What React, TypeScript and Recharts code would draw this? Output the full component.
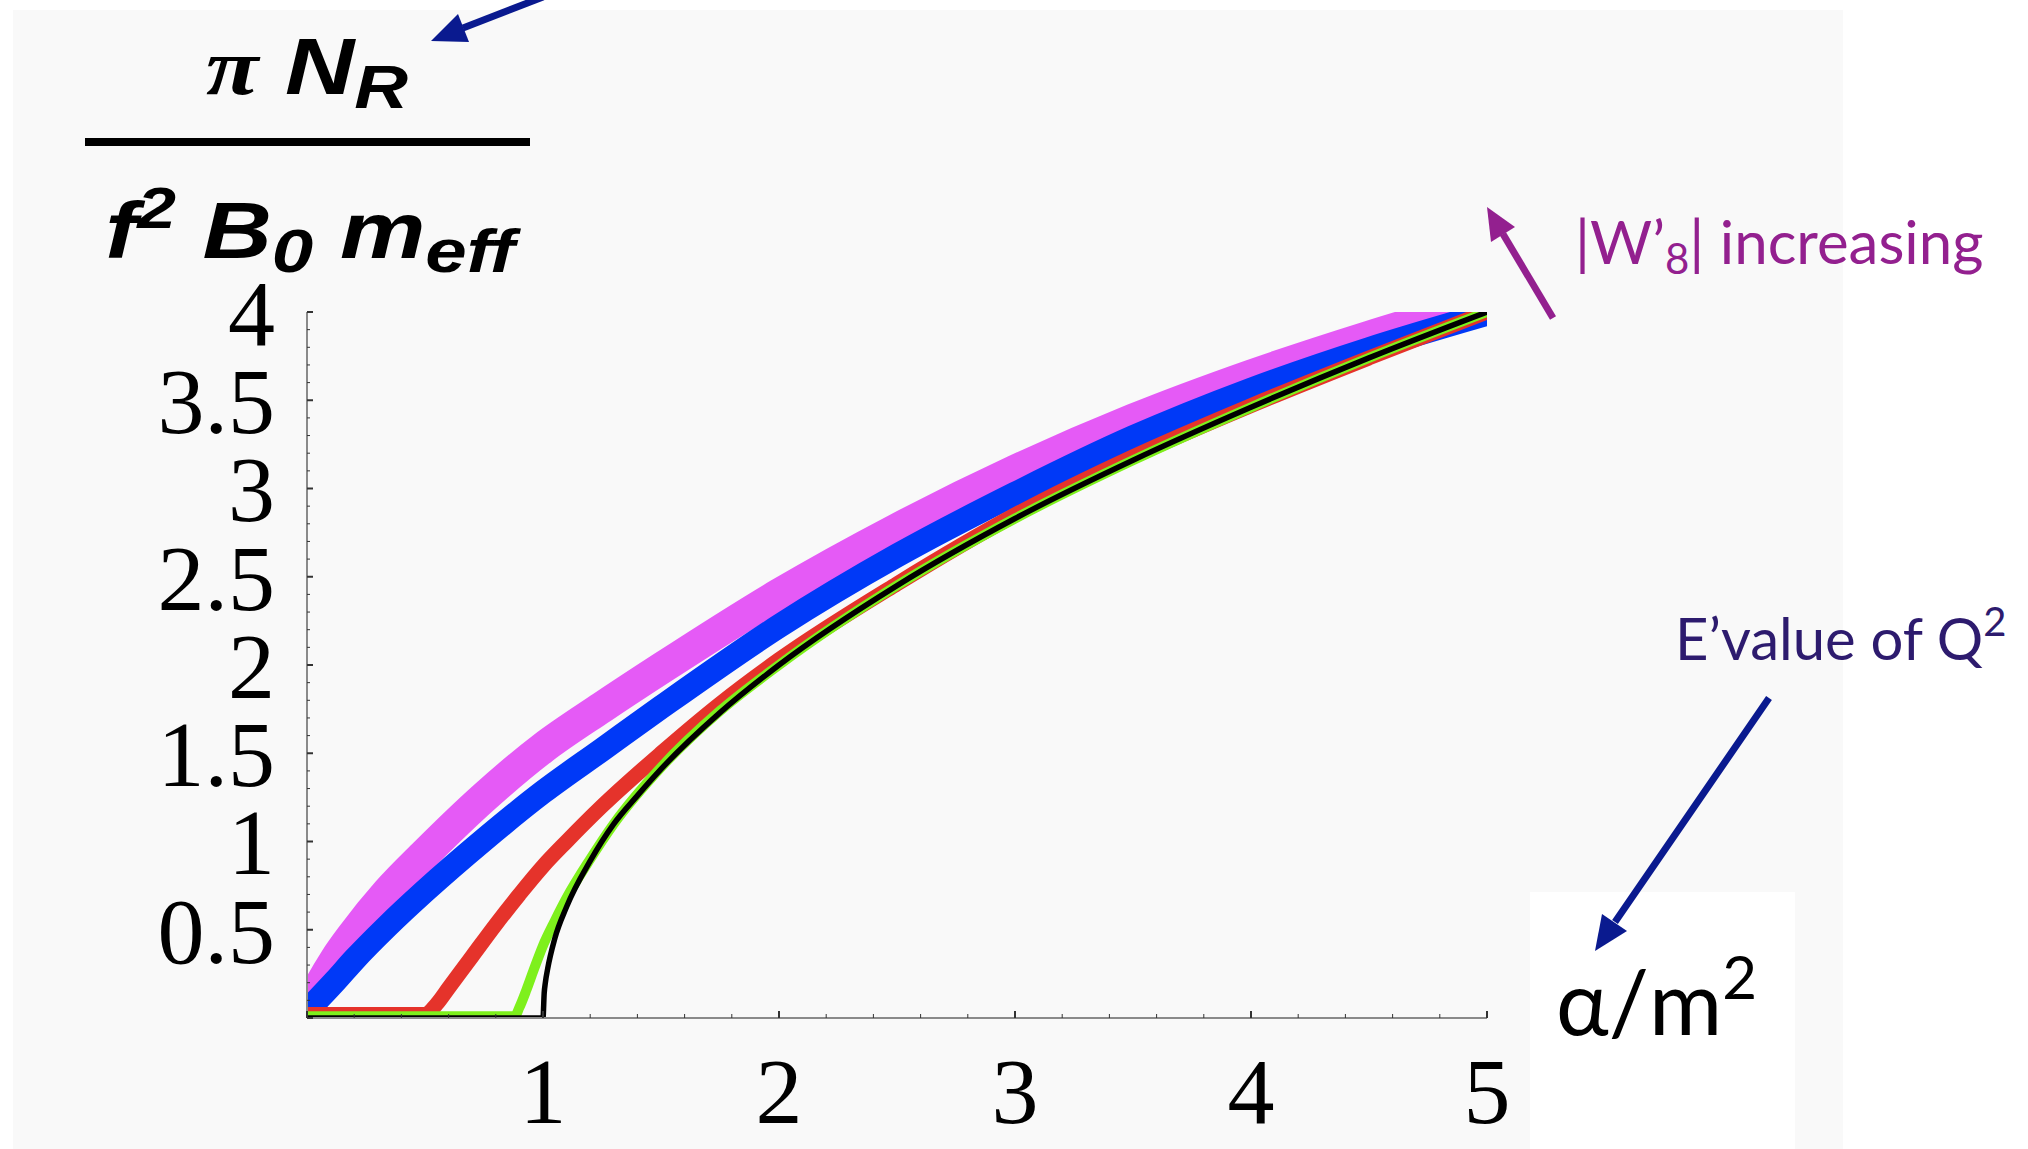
import React from 'react';
import { LineChart, Line, XAxis, YAxis } from 'recharts';

// axis ticks (minor + major) and the labelled ones
const X_TICKS = [0, 0.2, 0.4, 0.6, 0.8, 1, 1.2, 1.4, 1.6, 1.8, 2, 2.2, 2.4, 2.6, 2.8, 3, 3.2, 3.4, 3.6, 3.8, 4, 4.2, 4.4, 4.6, 4.8, 5];
const X_LABELS = [1, 2, 3, 4, 5];
const Y_TICKS = [
  0, 0.1, 0.2, 0.3, 0.4, 0.5, 0.6, 0.7, 0.8, 0.9, 1, 1.1, 1.2, 1.3, 1.4, 1.5, 1.6, 1.7, 1.8, 1.9, 2,
  2.1, 2.2, 2.3, 2.4, 2.5, 2.6, 2.7, 2.8, 2.9, 3, 3.1, 3.2, 3.3, 3.4, 3.5, 3.6, 3.7, 3.8, 3.9, 4,
];
const Y_LABELS = [0.5, 1, 1.5, 2, 2.5, 3, 3.5, 4];

// curves (alpha/m^2 vs pi N_R / f^2 B0 m_eff)
const magentaX = [0, 0.05, 0.12, 0.2, 0.34, 0.5, 0.75, 1, 1.25, 1.5, 2, 2.5, 3, 3.5, 4, 4.5, 5];
const magentaY = [0.03, 0.17, 0.33, 0.48, 0.71, 0.93, 1.25, 1.53, 1.76, 1.98, 2.4, 2.77, 3.1, 3.39, 3.64, 3.86, 4.06];

const blueX = [0, 0.05, 0.12, 0.2, 0.34, 0.5, 0.75, 1, 1.25, 1.5, 2, 2.5, 3, 3.5, 4, 4.5, 5];
const blueY = [0.04, 0.11, 0.21, 0.33, 0.52, 0.72, 1.01, 1.28, 1.52, 1.76, 2.22, 2.62, 2.97, 3.29, 3.56, 3.79, 3.99];

const redX = [0, 0.5, 0.55, 0.6, 0.7, 0.8, 0.9, 1, 1.1, 1.25, 1.5, 1.75, 2, 2.5, 3, 3.5, 4, 4.5, 5];
const redY = [0.02, 0.02, 0.08, 0.17, 0.35, 0.53, 0.7, 0.86, 1.0, 1.2, 1.5, 1.78, 2.03, 2.46, 2.85, 3.18, 3.47, 3.74, 4.0];

const greenX = [0, 0.88, 0.9, 0.93, 0.96, 1, 1.05, 1.1, 1.2, 1.3, 1.5, 1.75, 2, 2.5, 3, 3.5, 4, 4.5, 5];
const greenY = [0.01, 0.01, 0.06, 0.16, 0.27, 0.41, 0.55, 0.68, 0.9, 1.1, 1.42, 1.74, 2.0, 2.45, 2.83, 3.16, 3.46, 3.74, 4.0];

const blackX = [0, 1, 1.005, 1.01, 1.02, 1.05, 1.1, 1.2, 1.3, 1.4, 1.5, 1.75, 2, 2.5, 3, 3.5, 4, 4.5, 5];
const blackY = [0, 0, 0.14, 0.2, 0.28, 0.45, 0.63, 0.89, 1.1, 1.26, 1.41, 1.73, 2, 2.45, 2.83, 3.16, 3.46, 3.74, 4];

const zip = (xs: number[], ys: number[]) => xs.map((x, i) => ({ x, y: ys[i] }));

const SERIES = [
  { key: 'magenta', data: zip(magentaX, magentaY), color: '#e55af6', width: 32 },
  { key: 'blue', data: zip(blueX, blueY), color: '#0039f7', width: 24 },
  { key: 'red', data: zip(redX, redY), color: '#e5332b', width: 15 },
  { key: 'green', data: zip(greenX, greenY), color: '#7ef01c', width: 10 },
  { key: 'black', data: zip(blackX, blackY), color: '#000000', width: 5.5 },
];

const tickFont = '"Liberation Serif", "Times New Roman", serif';

function YTick(props: any) {
  const { x, y, payload } = props;
  const v = payload.value;
  const major = Math.abs(v * 2 - Math.round(v * 2)) < 1e-6;
  return (
    <g>
      <line x1={x} x2={x + (major ? 6 : 3)} y1={y} y2={y} stroke="#333" strokeWidth={major ? 2 : 1} />
      {Y_LABELS.includes(v) && (
        <text x={x - 32} y={y} dy="0.35em" textAnchor="end" fontFamily={tickFont} fontSize={94} fill="#000">
          {v}
        </text>
      )}
    </g>
  );
}

function XTick(props: any) {
  const { x, y, payload } = props;
  const v = payload.value;
  const major = Math.abs(v - Math.round(v)) < 1e-6;
  return (
    <g>
      <line x1={x} x2={x} y1={y} y2={y - (major ? 7 : 4)} stroke="#333" strokeWidth={major ? 2 : 1} />
      {X_LABELS.includes(v) && (
        <text x={x} y={y + 72} dy="0.35em" textAnchor="middle" fontFamily={tickFont} fontSize={94} fill="#000">
          {v}
        </text>
      )}
    </g>
  );
}

const sans = '"Liberation Sans", Arial, sans-serif';
const gill = 'Lato, "Open Sans", sans-serif';

function Annotations() {
  return (
    <svg width={2028} height={1149} style={{ position: 'absolute', left: 0, top: 0, pointerEvents: 'none' }}>
      {/* y axis label as a fraction, a little stretched sideways like the original */}
      <g transform="translate(307 0) scale(1.2 1)">
        <text x={0} y={94} textAnchor="middle" fontFamily={sans} fontWeight="bold" fontStyle="italic" fontSize={80} fill="#000">
          <tspan fontFamily={tickFont}>π</tspan>
          <tspan> N</tspan>
          <tspan fontSize={62} dy={14}>R</tspan>
        </text>
      </g>
      <rect x={85} y={138} width={445} height={8} fill="#000" />
      <g transform="translate(310 0) scale(1.2 1)">
        <text x={0} y={258} textAnchor="middle" fontFamily={sans} fontWeight="bold" fontStyle="italic" fontSize={80} fill="#000">
          <tspan>f</tspan>
          <tspan fontSize={58} dy={-30}>2</tspan>
          <tspan dy={30}> B</tspan>
          <tspan fontSize={62} dy={14}>0</tspan>
          <tspan dy={-14}> m</tspan>
          <tspan fontSize={62} dy={14}>eff</tspan>
        </text>
      </g>

      {/* top arrow */}
      <line x1={543} y1={-3} x2={463} y2={28} stroke="#0a1a8f" strokeWidth={7} />
      <polygon points="431,41 469,42 458,14" fill="#0a1a8f" />

      {/* |W'8| increasing */}
      <line x1={1553} y1={318} x2={1503} y2={234} stroke="#93208f" strokeWidth={7} />
      <polygon points="1487,207 1515,227 1491,242" fill="#93208f" />
      <text x={1575} y={264} fontFamily={gill} fontSize={60} fill="#93208f">
        |W’<tspan fontSize={42} dy={10}>8</tspan>
        <tspan dy={-10}>| increasing</tspan>
      </text>

      {/* E'value of Q^2 */}
      <text x={1675} y={660} fontFamily={gill} fontSize={58} fill="#2d1b6e">
        E’value of Q<tspan fontSize={40} dy={-24}>2</tspan>
      </text>
      <line x1={1769} y1={698} x2={1615} y2={922} stroke="#0a1a8f" strokeWidth={7} />
      <polygon points="1595,951 1627,931 1602,914" fill="#0a1a8f" />

      {/* x axis label */}
      <text x={1556} y={1035} fontFamily={gill} fontSize={89} fill="#000">
        α/m<tspan fontSize={60} dy={-36}>2</tspan>
      </text>
    </svg>
  );
}

export default function App() {
  return (
    <div style={{ position: 'fixed', left: 0, top: 0, width: 2028, height: 1149, background: '#fff', overflow: 'hidden' }}>
      <div style={{ position: 'absolute', left: 13, top: 10, width: 1830, height: 1139, background: '#f9f9f9' }} />
      <div style={{ position: 'absolute', left: 1530, top: 892, width: 265, height: 257, background: '#fff' }} />
      <div style={{ position: 'absolute', left: 0, top: 0 }}>
        <LineChart width={2028} height={1149} margin={{ left: 306, right: 541, top: 312, bottom: 130 }}>
          <XAxis
            type="number"
            dataKey="x"
            domain={[0, 5]}
            ticks={X_TICKS}
            interval={0}
            height={1}
            tickSize={0}
            tickMargin={0}
            allowDataOverflow
            axisLine={{ stroke: '#8a8a8a', strokeWidth: 2 }}
            tickLine={false}
            tick={<XTick />}
          />
          <YAxis
            type="number"
            dataKey="y"
            domain={[0, 4]}
            ticks={Y_TICKS}
            interval={0}
            width={1}
            tickSize={0}
            tickMargin={0}
            allowDataOverflow
            axisLine={{ stroke: '#8a8a8a', strokeWidth: 2 }}
            tickLine={false}
            tick={<YTick />}
          />
          {SERIES.map((s) => (
            <Line
              key={s.key}
              data={s.data}
              dataKey="y"
              type="monotone"
              stroke={s.color}
              strokeWidth={s.width}
              dot={false}
              activeDot={false}
              isAnimationActive={false}
            />
          ))}
        </LineChart>
      </div>
      <Annotations />
    </div>
  );
}
